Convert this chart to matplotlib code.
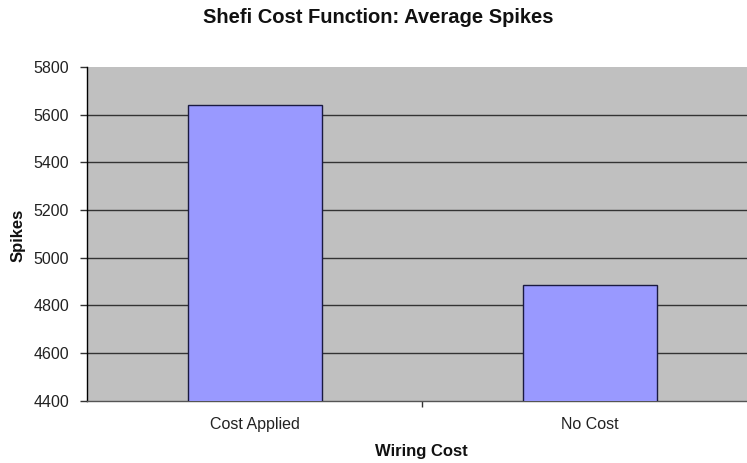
import matplotlib
matplotlib.use("Agg")
import matplotlib.pyplot as plt
from matplotlib.ticker import FixedLocator

categories = ["Cost Applied", "No Cost"]
spikes = [5641, 4886]
yticks = [4400, 4600, 4800, 5000, 5200, 5400, 5600, 5800]

plt.rcParams['font.family'] = ['Liberation Sans', 'DejaVu Sans']

fig = plt.figure(figsize=(7.47, 4.63), dpi=100)
ax = fig.add_axes([0.1165, 0.1346, 0.897, 0.7207])
ax.set_facecolor('#C0C0C0')

x = list(range(len(categories)))
ax.bar(x, spikes, width=0.4, color='#9999FF', edgecolor='#1a1a40', linewidth=1.0, zorder=3)

ax.set_xlim(-0.5, 1.5)
ax.set_ylim(4400, 5800)
ax.set_yticks(yticks)
ax.set_yticklabels([str(v) for v in yticks], fontsize=11.5, color='#222222')
ax.yaxis.grid(True, color='#333333', linewidth=1.0, zorder=1)
ax.set_axisbelow(True)
gl = ax.get_ygridlines()
gl[-1].set_visible(False)
gl[0].set_visible(False)

ax.set_xticks(x)
ax.set_xticklabels(categories, fontsize=11.5, color='#222222')
ax.xaxis.set_minor_locator(FixedLocator([0.5]))
ax.tick_params(axis='x', which='major', length=0, pad=12)
ax.tick_params(axis='x', which='minor', length=4, width=1, color='#333333', direction='out')
ax.tick_params(axis='y', length=5, width=1, color='#333333', direction='out', pad=8)

for s in ['top', 'right']:
    ax.spines[s].set_visible(False)
ax.spines['left'].set_color('black')
ax.spines['left'].set_linewidth(1.0)
ax.spines['bottom'].set_color('#555555')
ax.spines['bottom'].set_linewidth(1.0)

fig.text(0.507, 0.963, "Shefi Cost Function: Average Spikes", ha='center', va='center',
         fontsize=14.5, fontweight='bold', color='#111111')
fig.text(0.5636, 0.0238, "Wiring Cost", ha='center', va='center',
         fontsize=12, fontweight='bold', color='#111111')
fig.text(0.024, 0.4924, "Spikes", ha='center', va='center', rotation=90,
         fontsize=12, fontweight='bold', color='#111111')

fig.savefig("out.png", dpi=100, facecolor='white')
